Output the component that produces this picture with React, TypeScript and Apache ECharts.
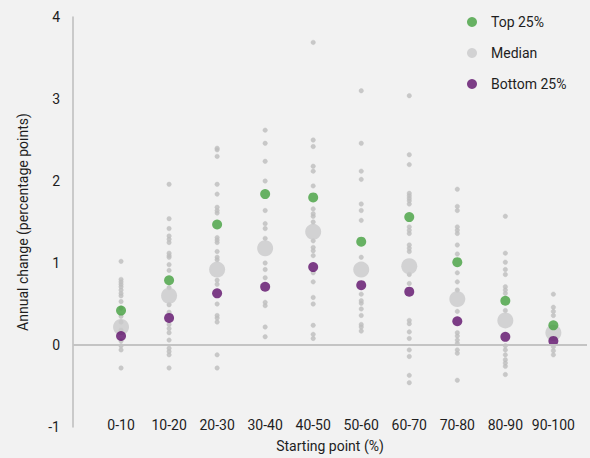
import React, { useEffect, useRef } from "react";
import * as echarts from "echarts";

const categories = ["0-10", "10-20", "20-30", "30-40", "40-50", "50-60", "60-70", "70-80", "80-90", "90-100"];
const top25 = [0.42, 0.79, 1.47, 1.84, 1.8, 1.26, 1.56, 1.01, 0.54, 0.24];
const median = [0.22, 0.6, 0.92, 1.18, 1.38, 0.92, 0.96, 0.56, 0.3, 0.15];
const bottom25 = [0.11, 0.33, 0.63, 0.71, 0.95, 0.73, 0.65, 0.29, 0.1, 0.05];

const spread0 = [1.02, 0.8, 0.77, 0.74, 0.71, 0.67, 0.63, 0.6, 0.53, 0.45, 0.35, 0.28, 0.18, 0.05, -0.01, -0.06, -0.28];
const spread1 = [1.96, 1.54, 1.42, 1.33, 1.29, 1.25, 1.12, 1.09, 1.07, 0.98, 0.91, 0.7, 0.49, 0.4, 0.25, 0.2, 0.15, 0.06, -0.04, -0.08, -0.12, -0.28];
const spread2 = [2.4, 2.38, 2.3, 1.96, 1.84, 1.68, 1.64, 1.61, 1.31, 1.28, 1.25, 1.14, 1.07, 1.04, 0.79, 0.74, 0.5, 0.36, 0.33, 0.28, -0.12, -0.28];
const spread3 = [2.62, 2.46, 2.24, 2.0, 1.64, 1.48, 1.42, 1.3, 1.0, 0.92, 0.82, 0.52, 0.48, 0.22, 0.1];
const spread4 = [3.69, 2.5, 2.42, 2.18, 2.12, 1.94, 1.66, 1.6, 1.57, 1.5, 1.27, 1.19, 1.15, 1.09, 0.88, 0.77, 0.58, 0.5, 0.24, 0.13, 0.08];
const spread5 = [3.1, 2.46, 2.12, 2.02, 1.72, 1.64, 1.52, 1.07, 0.62, 0.54, 0.51, 0.44, 0.36, 0.25, 0.22, 0.17];
const spread6 = [3.04, 2.32, 2.2, 1.85, 1.82, 1.79, 1.76, 1.72, 1.44, 1.4, 1.36, 1.22, 1.18, 1.14, 0.86, 0.75, 0.3, 0.26, 0.16, 0.08, -0.06, -0.14, -0.37, -0.46];
const spread7 = [1.9, 1.69, 1.64, 1.44, 1.4, 1.36, 1.22, 1.11, 0.88, 0.77, 0.67, 0.41, 0.15, 0.11, 0.06, 0.02, -0.06, -0.1, -0.43];
const spread8 = [1.57, 1.12, 1.01, 0.92, 0.86, 0.71, 0.67, 0.63, 0.42, -0.01, -0.06, -0.12, -0.18, -0.22, -0.26, -0.36];
const spread9 = [0.62, 0.46, 0.41, 0.36, -0.02, -0.07, -0.12];
const spreads = [spread0, spread1, spread2, spread3, spread4, spread5, spread6, spread7, spread8, spread9];

const FONT = "Roboto";
const TEXT = "#1e1e1e";

export default function App() {
  const ref = useRef<HTMLDivElement>(null);
  useEffect(() => {
    document.body.style.margin = "0";
    const chart = echarts.init(ref.current!, null, { renderer: "svg" });
    const spreadData: number[][] = [];
    spreads.forEach((arr, i) => arr.forEach((v) => spreadData.push([i + 1, v])));
    const toPts = (arr: number[]) => arr.map((v, i) => [i + 1, v]);
    chart.setOption({
      animation: false,
      backgroundColor: "#f2f2f2",
      textStyle: { fontFamily: FONT },
      grid: { left: 73, right: 3, top: 17, bottom: 30 },
      legend: {
        orient: "vertical",
        left: 462,
        top: 10,
        icon: "circle",
        itemWidth: 10,
        itemHeight: 10,
        itemGap: 17,
        data: ["Top 25%", "Median", "Bottom 25%"],
        textStyle: { fontSize: 14, color: TEXT, fontFamily: FONT, padding: [0, 0, 0, 9] },
      },
      xAxis: {
        type: "value",
        min: 0,
        max: 10.7,
        interval: 1,
        name: "Starting point (%)",
        nameLocation: "middle",
        nameGap: 12,
        nameTextStyle: { fontSize: 14, color: TEXT, fontFamily: FONT },
        axisLine: { show: false },
        axisTick: { show: false },
        splitLine: { show: false },
        axisLabel: {
          margin: -9,
          fontSize: 14,
          color: TEXT,
          fontFamily: FONT,
          showMaxLabel: false,
          formatter: (v: number) => (Number.isInteger(v) && v >= 1 ? categories[v - 1] ?? "" : ""),
        },
      },
      yAxis: {
        type: "value",
        min: -1,
        max: 4,
        interval: 1,
        name: "Annual change (percentage points)",
        nameLocation: "middle",
        nameGap: 43,
        nameTextStyle: { fontSize: 14, color: TEXT, fontFamily: FONT },
        axisLine: { show: true, lineStyle: { color: "#bdbdbd", width: 1.5 } },
        axisTick: { show: false },
        splitLine: { show: false },
        axisLabel: { margin: 13, fontSize: 14, color: TEXT, fontFamily: FONT },
      },
      series: [
        {
          name: "Spread",
          type: "scatter",
          symbolSize: 4.5,
          itemStyle: { color: "#bdbdbd", borderColor: "#c4c4c4", borderWidth: 0.5 },
          data: spreadData,
          z: 1,
          markLine: {
            silent: true,
            symbol: "none",
            label: { show: false },
            lineStyle: { color: "#c4c4c4", width: 2, type: "solid" },
            data: [{ yAxis: 0 }],
          },
        },
        {
          name: "Median",
          type: "scatter",
          symbolSize: 16,
          itemStyle: { color: "#c9c9cb" },
          data: toPts(median),
          z: 2,
        },
        {
          name: "Top 25%",
          type: "scatter",
          symbolSize: 10,
          itemStyle: { color: "#43a03f" },
          data: toPts(top25),
          z: 3,
        },
        {
          name: "Bottom 25%",
          type: "scatter",
          symbolSize: 10,
          itemStyle: { color: "#5e0f6a" },
          data: toPts(bottom25),
          z: 3,
        },
      ],
    });
    return () => chart.dispose();
  }, []);
  return <div ref={ref} style={{ position: "absolute", left: 0, top: 0, width: 590, height: 458 }} />;
}
